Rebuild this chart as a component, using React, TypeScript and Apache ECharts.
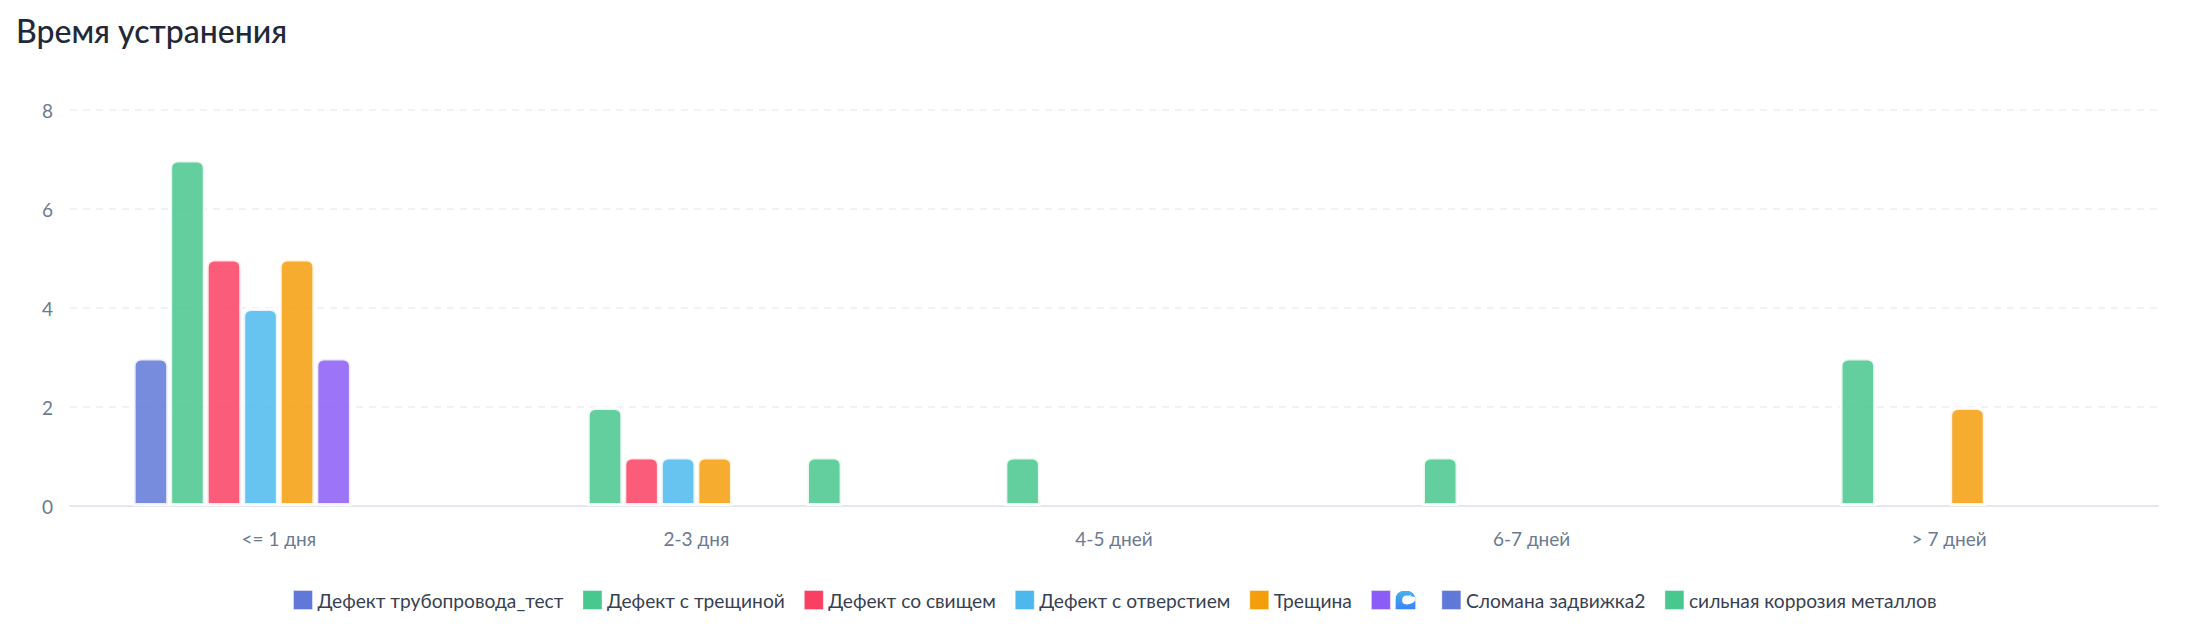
import React, { useEffect, useRef } from "react";
import * as echarts from "echarts";

const titleText = "Время устранения";
const categories = ["<= 1 дня", "2-3 дня", "4-5 дней", "6-7 дней", "> 7 дней"];
const yTicks = { min: 0, max: 8, interval: 2 };

const seriesNames = [
  "Дефект трубопровода_тест",
  "Дефект с трещиной",
  "Дефект со свищем",
  "Дефект с отверстием",
  "Трещина",
  "🌊",
  "Сломана задвижка2",
  "сильная коррозия металлов",
];
const seriesColors = ["#6078D8", "#48C78E", "#F93F62", "#4CB8EC", "#F59E0B", "#8B5CF6", "#6078D8", "#48C78E"];

const defectPipe = [3, null, null, null, null];
const defectCrack = [7, 2, 1, 1, 3];
const defectFistula = [5, 1, null, null, null];
const defectHole = [4, 1, null, null, null];
const crack = [5, 1, null, null, 2];
const wave = [3, null, null, null, null];
const brokenValve = [null, null, null, null, null];
const corrosion = [null, 1, null, null, null];
const seriesValues = [defectPipe, defectCrack, defectFistula, defectHole, crack, wave, brokenValve, corrosion];

const waveSvg =
  "data:image/svg+xml;utf8," +
  encodeURIComponent(
    `<svg xmlns="http://www.w3.org/2000/svg" width="54" height="38" viewBox="0 0 54 38"><defs><linearGradient id="g" x1="0" y1="0" x2="0" y2="1"><stop offset="0" stop-color="#45b4f0"/><stop offset="1" stop-color="#3b82f6"/></linearGradient></defs><path d="M0 38V18C0 7 9 0 20 0C27 0 33 3 37 8L40 14V38Z" fill="url(#g)"/><path d="M14 16C15 11 22 8 28 11L40 13V20C36 25 26 30 18 27C13 25 13 20 14 16Z" fill="#fff"/><path d="M24 12L30 8L32 12Z" fill="#cfe8fb"/></svg>`
  );

export default function App() {
  const ref = useRef<HTMLDivElement>(null);
  useEffect(() => {
    const chart = echarts.init(ref.current!, undefined, { renderer: "svg" });
    const fontFamily = "Lato";
    chart.setOption({
      animation: false,
      backgroundColor: "#fff",
      title: {
        text: titleText,
        left: 16,
        top: 14,
        padding: 0,
        textStyle: { fontFamily, fontSize: 32, fontWeight: 500, color: "#1f2937" },
      },
      grid: { left: 70, right: 46, top: 110, bottom: 130 },
      legend: {
        left: 293,
        top: 590,
        padding: 0,
        icon: "rect",
        itemWidth: 19,
        itemHeight: 19,
        itemGap: 19,
        selectedMode: false,
        itemStyle: { opacity: 1, borderWidth: 1, borderColor: "rgba(255,255,255,0.4)" },
        data: seriesNames,
        formatter: (name: string) => (name === "🌊" ? "{wave|}" : name),
        textStyle: {
          fontFamily,
          fontSize: 19.2,
          color: "#374151",
          rich: {
            wave: { width: 27, height: 19, backgroundColor: { image: waveSvg } },
          },
        },
      },
      xAxis: {
        type: "category",
        data: categories,
        axisTick: { show: false },
        axisLine: { lineStyle: { color: "#E5E7EE", width: 2 } },
        axisLabel: { fontFamily, fontSize: 19, color: "#6B7A90", margin: 23 },
      },
      yAxis: {
        type: "value",
        min: yTicks.min,
        max: yTicks.max,
        interval: yTicks.interval,
        axisLine: { show: false },
        axisTick: { show: false },
        axisLabel: { fontFamily, fontSize: 19, color: "#6B7A90", margin: 17, padding: [0, 0, 3, 0] },
        splitLine: { lineStyle: { color: "#F1F2F5", width: 2, type: [7, 6] } },
      },
      series: seriesNames.map((name, i) => ({
        name,
        type: "bar",
        data: seriesValues[i],
        barGap: 0,
        barCategoryGap: "30%",
        itemStyle: {
          color: seriesColors[i],
          opacity: 0.85,
          borderColor: "#fff",
          borderWidth: 3,
          borderRadius: [7, 7, 0, 0],
        },
      })),
    });
    return () => chart.dispose();
  }, []);
  return <div ref={ref} style={{ position: "absolute", left: 0, top: 0, width: 2204, height: 636 }} />;
}
